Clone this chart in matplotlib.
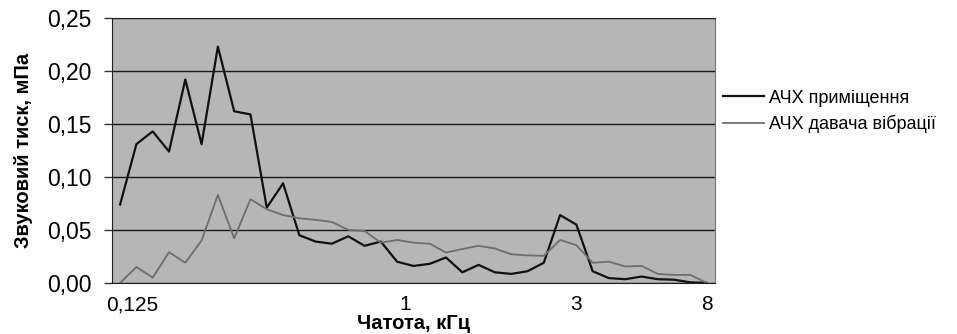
#!/usr/bin/env python

# import libraries
import numpy as np
import matplotlib
matplotlib.use("Agg")
import matplotlib.pyplot as plt

# data (1/6-octave bands, 125 Hz ... 8 kHz)
room = [0.074, 0.131, 0.143, 0.124, 0.192, 0.131, 0.223, 0.162, 0.159, 0.071,
        0.094, 0.045, 0.039, 0.037, 0.044, 0.035, 0.039, 0.020, 0.016, 0.018,
        0.024, 0.010, 0.017, 0.010, 0.0085, 0.011, 0.019, 0.064, 0.055, 0.011,
        0.0045, 0.0035, 0.006, 0.0035, 0.003, 0.0005, 0.0]
sensor = [0.000, 0.015, 0.005, 0.029, 0.019, 0.040, 0.083, 0.042, 0.079, 0.0695,
          0.064, 0.061, 0.0595, 0.0575, 0.050, 0.049, 0.038, 0.0405, 0.038, 0.037,
          0.0286, 0.032, 0.035, 0.0325, 0.027, 0.026, 0.0255, 0.0405, 0.0356, 0.019,
          0.020, 0.0155, 0.016, 0.0085, 0.0075, 0.0075, 0.0]
tick_labels = ["0,125", "1", "3", "8"]
y_ticks = [0.0, 0.05, 0.10, 0.15, 0.20, 0.25]
series_names = ["АЧХ приміщення", "АЧХ давача вібрації"]

plt.rcParams['font.family'] = ['Liberation Sans', 'DejaVu Sans']

fig = plt.figure(figsize=(9.57, 3.34), dpi=100)
ax = fig.add_axes([0.117, 0.153, 0.630, 0.793])
ax.set_facecolor("#b6b6b6")

x = np.arange(len(room))
l1, = ax.plot(x, room, color="#111111", lw=1.6)
l2, = ax.plot(x, sensor, color="#6e6e6e", lw=1.3)

# axes, grid
ax.set_xlim(-0.5, len(room) - 0.5)
ax.set_ylim(0, 0.25)
ax.set_yticks(y_ticks)
ax.set_yticklabels([("%.2f" % v).replace(".", ",") for v in y_ticks])
ax.yaxis.grid(True, color="#1a1a1a", lw=1.0)
ax.set_axisbelow(True)
ax.tick_params(axis="y", length=6, width=1, pad=9, labelsize=16.5, color="#333333")

ax.set_xticks([0.75, 17.5, 28, 36])
ax.set_xticklabels(tick_labels)
ax.tick_params(axis="x", which="major", length=0, pad=9, labelsize=15)
ax.set_xticks([17.5, 28], minor=True)
ax.tick_params(axis="x", which="minor", length=5, width=1, color="#333333")

for side in ["left", "bottom", "top"]:
    ax.spines[side].set_color("#222222")
ax.spines["right"].set_color("#777777")

ax.set_ylabel("Звуковий тиск, мПа", fontsize=14.5, fontweight="bold", labelpad=10)
ax.set_xlabel("Чатота, кГц", fontsize=14.5, fontweight="bold", labelpad=0)

fig.legend([l1, l2], series_names, loc="upper left", bbox_to_anchor=(0.738, 0.78),
           frameon=False, fontsize=13, handlelength=2.3, handletextpad=0.3,
           labelspacing=0.45)

fig.savefig("out.png", dpi=100)
